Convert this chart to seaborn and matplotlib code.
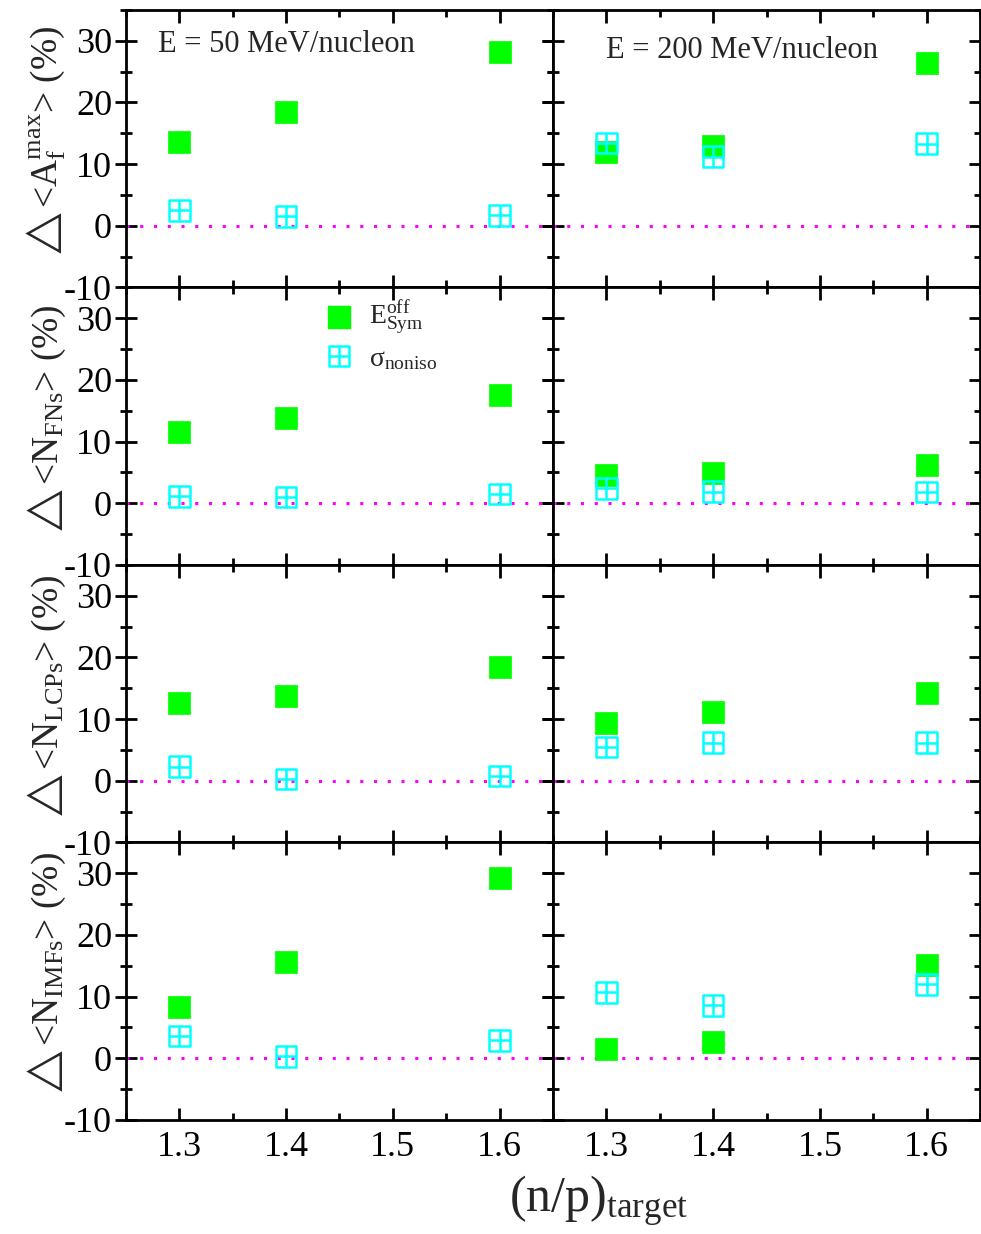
import numpy as np
import matplotlib
matplotlib.use('Agg')
import matplotlib.pyplot as plt
from matplotlib.ticker import MultipleLocator
import seaborn as sns
import pandas as pd

# valeurs
ratio = [1.3, 1.4, 1.6]

af_esym_50 = [13.5, 18.5, 28.2]
af_sigma_50 = [2.5, 1.5, 1.7]
af_esym_200 = [12.0, 13.0, 26.4]
af_sigma_200 = [13.4, 11.2, 13.3]

fns_esym_50 = [11.5, 13.9, 17.5]
fns_sigma_50 = [1.1, 1.0, 1.5]
fns_esym_200 = [4.5, 4.9, 6.2]
fns_sigma_200 = [2.4, 1.9, 1.8]

lcp_esym_50 = [12.6, 13.8, 18.5]
lcp_sigma_50 = [2.3, 0.3, 0.8]
lcp_esym_200 = [9.4, 11.2, 14.3]
lcp_sigma_200 = [5.5, 6.2, 6.2]

imf_esym_50 = [8.3, 15.6, 29.2]
imf_sigma_50 = [3.6, 0.3, 2.9]
imf_esym_200 = [1.5, 2.6, 15.2]
imf_sigma_200 = [10.7, 8.6, 12.0]

ylabels = ['$\\bigtriangleup\\,$<A$_{\\mathrm{f}}^{\\mathrm{max}}$> (%)',
           '$\\bigtriangleup\\,$<N$_{\\mathrm{FNs}}$> (%)',
           '$\\bigtriangleup\\,$<N$_{\\mathrm{LCPs}}$> (%)',
           '$\\bigtriangleup\\,$<N$_{\\mathrm{IMFs}}$> (%)']
energies = ['E = 50 MeV/nucleon', 'E = 200 MeV/nucleon']

panels = [[(af_esym_50, af_sigma_50), (af_esym_200, af_sigma_200)],
          [(fns_esym_50, fns_sigma_50), (fns_esym_200, fns_sigma_200)],
          [(lcp_esym_50, lcp_sigma_50), (lcp_esym_200, lcp_sigma_200)],
          [(imf_esym_50, imf_sigma_50), (imf_esym_200, imf_sigma_200)]]

sns.set_style('ticks')
plt.rcParams['font.family'] = ['Liberation Serif', 'DejaVu Sans']
plt.rcParams['mathtext.fontset'] = 'custom'
plt.rcParams['mathtext.rm'] = 'Liberation Serif'
plt.rcParams['mathtext.it'] = 'Liberation Serif:italic'
plt.rcParams['mathtext.fallback'] = 'stix'
plt.rcParams['axes.unicode_minus'] = False

green = '#00ff00'
cyan = '#00ffff'

fig, axes = plt.subplots(4, 2, figsize=(9.81, 12.34), dpi=100,
                         sharex=True, sharey=True)
fig.subplots_adjust(left=0.1284, right=0.999, top=0.992, bottom=0.0924,
                    hspace=0, wspace=0)

for i in range(4):
    for j in range(2):
        ax = axes[i, j]
        esym, sigma = panels[i][j]
        df = pd.DataFrame({'x': ratio, 'esym': esym, 'sigma': sigma})
        ax.axhline(0, color='#ff00ff', ls=(0, (1, 3.5)), lw=2.2, zorder=1)
        sns.scatterplot(data=df, x='x', y='esym', marker='s', s=260,
                        color=green, edgecolor=green, linewidth=0.5,
                        ax=ax, zorder=3)
        sns.scatterplot(data=df, x='x', y='sigma', marker='s', s=220,
                        facecolor='none', edgecolor=cyan, linewidth=1.8,
                        ax=ax, zorder=4)
        sns.scatterplot(data=df, x='x', y='sigma', marker='+', s=220,
                        color=cyan, linewidth=1.8, ax=ax, zorder=4)
        ax.set_xlim(1.25, 1.65)
        ax.set_ylim(-10, 35)
        ax.xaxis.set_major_locator(MultipleLocator(0.1))
        ax.xaxis.set_minor_locator(MultipleLocator(0.05))
        ax.yaxis.set_major_locator(MultipleLocator(10))
        ax.yaxis.set_minor_locator(MultipleLocator(5))
        ax.tick_params(which='both', direction='in', top=True, right=True,
                       width=2, labelsize=26, color='black',
                       labelcolor='black')
        ax.tick_params(which='major', length=9)
        ax.tick_params(which='minor', length=5)
        ax.tick_params(axis='x', pad=8)
        ax.tick_params(axis='y', which='both', direction='inout', pad=2)
        ax.tick_params(axis='y', which='major', length=16)
        ax.tick_params(axis='y', which='minor', length=9)
        for sp in ax.spines.values():
            sp.set_linewidth(2)
            sp.set_color('black')
        ax.set_xlabel('')
        ax.set_ylabel('')
        ax.set_yticks([-10, 0, 10, 20, 30])
    axes[i, 0].set_ylabel(ylabels[i], fontsize=27)
    axes[i, 0].yaxis.set_label_coords(-0.135, 0.53)

axes[0, 0].text(0.075, 0.875, energies[0], transform=axes[0, 0].transAxes,
                fontsize=22, va='center')
axes[0, 1].text(0.123, 0.855, energies[1], transform=axes[0, 1].transAxes,
                fontsize=22, va='center')

# légende dans le panneau FNs 50 MeV
lg = axes[1, 0]
lg.scatter([1.4495], [30.2], marker='s', s=260, color=green, zorder=5)
lg.scatter([1.4495], [23.9], marker='s', s=220, facecolor='none',
           edgecolor=cyan, linewidth=1.8, zorder=5)
lg.scatter([1.4495], [23.9], marker='+', s=220, color=cyan,
           linewidth=1.8, zorder=5)
lg.text(1.478, 30.0, 'E$_{\\mathrm{Sym}}^{\\mathrm{off}}$', fontsize=20,
        va='center')
lg.text(1.478, 23.3, 'σ$_{\\mathrm{noniso}}$', fontsize=20, va='center')

fig.text(0.61, 0.018, '(n/p)$_{\\mathrm{target}}$', fontsize=36, ha='center')

plt.savefig('out.png', dpi=100)
plt.close()
